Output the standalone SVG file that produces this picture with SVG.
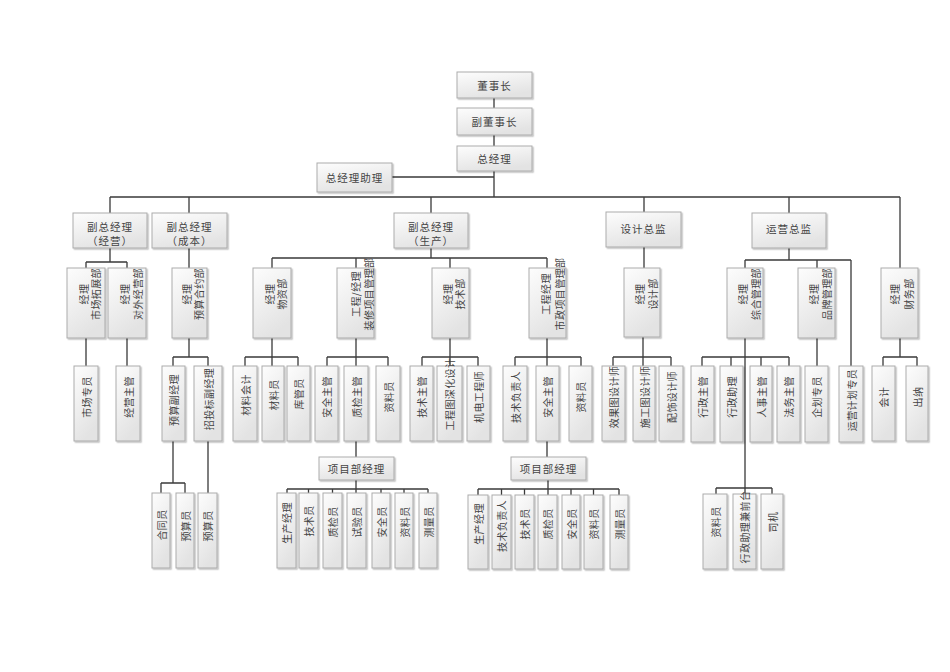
<svg xmlns="http://www.w3.org/2000/svg" width="950" height="672" viewBox="0 0 950 672">
<style>
.b{fill:url(#g);stroke:#ababab;stroke-width:1;filter:url(#sh)}
.h{font-family:"Noto Sans CJK SC","Noto Sans",sans-serif;font-size:10.5px;fill:#444;text-anchor:middle;dominant-baseline:central;letter-spacing:1px}
.v{font-family:"Noto Sans CJK SC","Noto Sans",sans-serif;font-size:10px;fill:#444;text-anchor:middle;dominant-baseline:central;letter-spacing:0.4px}
.c{fill:none;stroke:#3a3a3a;stroke-width:1.3}
</style>
<defs>
<linearGradient id="g" x1="0" y1="0" x2="0.4" y2="1"><stop offset="0" stop-color="#fdfdfd"/><stop offset="1" stop-color="#e3e3e3"/></linearGradient>
<filter id="sh" x="-20%" y="-20%" width="150%" height="150%"><feDropShadow dx="1.3" dy="1.3" stdDeviation="0.7" flood-color="#000" flood-opacity="0.25"/></filter>
</defs>
<rect width="950" height="672" fill="#fff"/>
<g id="connectors" class="c">
<path d="M494 98V108M494 135V146M494 171V197M392 177H494M110 197H900M110 197V213M189 197V213M431 197V213M644 197V212M789 197V213M900 197V268"/>
<path d="M110 248V262M86 262H127M86 262V268M127 262V268M189 248V268"/>
<path d="M431 248V258M272 258H547M272 258V268M356 258V268M450 258V268M547 258V268"/>
<path d="M644 247V268M789 248V260M745 260H851M745 260V268M817 260V268M851 260V366"/>
<path d="M86 338V366M127 338V366M189 338V357M173 357H208M173 357V366M208 357V366"/>
<path d="M272 338V366M245 357H298M245 357V366M298 357V366"/>
<path d="M356 338V366M327 357H388M327 357V366M388 357V366"/>
<path d="M450 338V366M422 357H478M422 357V366M478 357V366"/>
<path d="M547 338V366M515 357H581M515 357V366M581 357V366"/>
<path d="M643 337V366M613 357H671M613 357V366M671 357V366"/>
<path d="M745 338V494M702 357H789M702 357V366M731 357V366M761 357V366M789 357V366"/>
<path d="M817 338V366M900 338V357M883 357H917M883 357V366M917 357V366"/>
<path d="M356 441V457M547 441V457M173 441V483M161 483H185M161 483V493M185 483V493M208 441V493"/>
<path d="M356 480V493M287 489H428M287 489V493M308.5 489V493M332.5 489V493M381 489V493M404 489V493M428 489V493"/>
<path d="M548 480V495M478 489H619M478 489V495M501.5 489V495M524.5 489V495M571 489V495M593.5 489V495M619 489V495"/>
<path d="M716 488H772M716 488V494M772 488V494"/>
</g>
<g id="n-dsz"><rect class="b" x="457" y="72" width="75" height="26"/><text class="h" x="494.5" y="85">董事长</text></g>
<g id="n-fdsz"><rect class="b" x="457" y="108" width="75" height="27"/><text class="h" x="494.5" y="121.5">副董事长</text></g>
<g id="n-zjl"><rect class="b" x="457" y="146" width="75" height="25"/><text class="h" x="494.5" y="158.5">总经理</text></g>
<g id="n-zjlzl"><rect class="b" x="317" y="163" width="75" height="29"/><text class="h" x="354.5" y="177.5">总经理助理</text></g>
<g id="n-vp-jy"><rect class="b" x="73" y="213" width="74" height="35"/><text class="h" x="110" y="226">副总经理</text><text class="h" x="110" y="240">（经营）</text></g>
<g id="n-vp-cb"><rect class="b" x="152" y="213" width="75" height="35"/><text class="h" x="189.5" y="226">副总经理</text><text class="h" x="189.5" y="240">（成本）</text></g>
<g id="n-vp-sc"><rect class="b" x="394" y="213" width="74" height="35"/><text class="h" x="431" y="226">副总经理</text><text class="h" x="431" y="240">（生产）</text></g>
<g id="n-sjzj"><rect class="b" x="606" y="212" width="75" height="35"/><text class="h" x="643.5" y="228">设计总监</text></g>
<g id="n-yyzj"><rect class="b" x="752" y="213" width="74" height="35"/><text class="h" x="789" y="228">运营总监</text></g>
<g id="n-sctz"><rect class="b" x="67" y="268" width="38" height="70"/><text class="v" transform="translate(83,294) rotate(-90)">经理</text><text class="v" transform="translate(95,294) rotate(-90)">市场拓展部</text></g>
<g id="n-dwjy"><rect class="b" x="108" y="268" width="38" height="70"/><text class="v" transform="translate(124,294) rotate(-90)">经理</text><text class="v" transform="translate(137,294) rotate(-90)">对外经营部</text></g>
<g id="n-yshy"><rect class="b" x="172" y="268" width="35" height="70"/><text class="v" transform="translate(186.5,294) rotate(-90)">经理</text><text class="v" transform="translate(198.5,294) rotate(-90)">预算合约部</text></g>
<g id="n-wz"><rect class="b" x="253" y="268" width="38" height="70"/><text class="v" transform="translate(269,294) rotate(-90)">经理</text><text class="v" transform="translate(281,294) rotate(-90)">物资部</text></g>
<g id="n-zx"><rect class="b" x="337" y="268" width="37" height="70"/><text class="v" transform="translate(355,294) rotate(-90)">工程/经理</text><text class="v" transform="translate(368.5,294) rotate(-90)">装修项目管理部</text></g>
<g id="n-js"><rect class="b" x="432" y="268" width="37" height="70"/><text class="v" transform="translate(447,294) rotate(-90)">经理</text><text class="v" transform="translate(459.5,294) rotate(-90)">技术部</text></g>
<g id="n-sz"><rect class="b" x="529" y="268" width="37" height="70"/><text class="v" transform="translate(545,294) rotate(-90)">工程经理</text><text class="v" transform="translate(559,294) rotate(-90)">市政项目管理部</text></g>
<g id="n-sjb"><rect class="b" x="624" y="268" width="36" height="69"/><text class="v" transform="translate(639,294) rotate(-90)">经理</text><text class="v" transform="translate(652,294) rotate(-90)">设计部</text></g>
<g id="n-zh"><rect class="b" x="727" y="268" width="36" height="70"/><text class="v" transform="translate(742,294) rotate(-90)">经理</text><text class="v" transform="translate(755,294) rotate(-90)">综合管理部</text></g>
<g id="n-pp"><rect class="b" x="798" y="268" width="37" height="70"/><text class="v" transform="translate(813.5,294) rotate(-90)">经理</text><text class="v" transform="translate(826.5,294) rotate(-90)">品牌管理部</text></g>
<g id="n-cw"><rect class="b" x="881" y="268" width="37" height="70"/><text class="v" transform="translate(894,294) rotate(-90)">经理</text><text class="v" transform="translate(908,294) rotate(-90)">财务部</text></g>
<g id="n-sczy"><rect class="b" x="74" y="366" width="24" height="75"/><text class="v" transform="translate(86,397) rotate(-90)">市场专员</text></g>
<g id="n-jyzg"><rect class="b" x="116" y="366" width="24" height="75"/><text class="v" transform="translate(128,397) rotate(-90)">经营主管</text></g>
<g id="n-ysfjl"><rect class="b" x="162" y="366" width="23" height="75"/><text class="v" transform="translate(173.5,400) rotate(-90)">预算副经理</text></g>
<g id="n-ztbfjl"><rect class="b" x="194" y="366" width="28" height="75"/><text class="v" transform="translate(208,399) rotate(-90)">招投标副经理</text></g>
<g id="n-clkj"><rect class="b" x="233" y="366" width="24" height="75"/><text class="v" transform="translate(245,395) rotate(-90)">材料会计</text></g>
<g id="n-cly"><rect class="b" x="262" y="366" width="22" height="75"/><text class="v" transform="translate(273,395) rotate(-90)">材料员</text></g>
<g id="n-kgy"><rect class="b" x="287" y="366" width="23" height="75"/><text class="v" transform="translate(298.5,394) rotate(-90)">库管员</text></g>
<g id="n-aqzg1"><rect class="b" x="315" y="366" width="23" height="75"/><text class="v" transform="translate(326.5,397) rotate(-90)">安全主管</text></g>
<g id="n-zjzg"><rect class="b" x="344" y="366" width="24" height="75"/><text class="v" transform="translate(356,397) rotate(-90)">质检主管</text></g>
<g id="n-zly1"><rect class="b" x="376" y="366" width="24" height="75"/><text class="v" transform="translate(388,397) rotate(-90)">资料员</text></g>
<g id="n-jszg"><rect class="b" x="410" y="366" width="23" height="75"/><text class="v" transform="translate(421.5,397) rotate(-90)">技术主管</text></g>
<g id="n-gctsh"><rect class="b" x="437" y="366" width="25" height="75"/><text class="v" transform="translate(449.5,394) rotate(-90)">工程图深化设计</text></g>
<g id="n-jdgcs"><rect class="b" x="467" y="366" width="23" height="75"/><text class="v" transform="translate(478.5,397) rotate(-90)">机电工程师</text></g>
<g id="n-jsfzr1"><rect class="b" x="503" y="366" width="24" height="75"/><text class="v" transform="translate(515,397) rotate(-90)">技术负责人</text></g>
<g id="n-aqzg2"><rect class="b" x="536" y="366" width="23" height="75"/><text class="v" transform="translate(547.5,397) rotate(-90)">安全主管</text></g>
<g id="n-zly2"><rect class="b" x="569" y="366" width="23" height="75"/><text class="v" transform="translate(580.5,397) rotate(-90)">资料员</text></g>
<g id="n-xgt"><rect class="b" x="602" y="366" width="23" height="75"/><text class="v" transform="translate(613.5,397) rotate(-90)">效果图设计师</text></g>
<g id="n-sgt"><rect class="b" x="633" y="366" width="22" height="75"/><text class="v" transform="translate(644,397) rotate(-90)">施工图设计师</text></g>
<g id="n-ps"><rect class="b" x="659" y="366" width="24" height="75"/><text class="v" transform="translate(671,397) rotate(-90)">配饰设计师</text></g>
<g id="n-xzzg"><rect class="b" x="691" y="366" width="23" height="76"/><text class="v" transform="translate(702.5,397) rotate(-90)">行政主管</text></g>
<g id="n-xzzl"><rect class="b" x="720" y="366" width="23" height="76"/><text class="v" transform="translate(731.5,397) rotate(-90)">行政助理</text></g>
<g id="n-rszg"><rect class="b" x="750" y="366" width="22" height="76"/><text class="v" transform="translate(761,397) rotate(-90)">人事主管</text></g>
<g id="n-fwzg"><rect class="b" x="777" y="366" width="23" height="76"/><text class="v" transform="translate(788.5,397) rotate(-90)">法务主管</text></g>
<g id="n-qhzy"><rect class="b" x="805" y="366" width="23" height="76"/><text class="v" transform="translate(816.5,397) rotate(-90)">企划专员</text></g>
<g id="n-yyjh"><rect class="b" x="839" y="366" width="24" height="76"/><text class="v" transform="translate(851,400) rotate(-90)">运营计划专员</text></g>
<g id="n-kj"><rect class="b" x="872" y="366" width="23" height="75"/><text class="v" transform="translate(883.5,397) rotate(-90)">会计</text></g>
<g id="n-cn"><rect class="b" x="906" y="366" width="22" height="75"/><text class="v" transform="translate(917,397) rotate(-90)">出纳</text></g>
<g id="n-pm1"><rect class="b" x="319" y="457" width="75" height="23"/><text class="h" x="356.5" y="468.5">项目部经理</text></g>
<g id="n-pm2"><rect class="b" x="511" y="457" width="75" height="23"/><text class="h" x="548.5" y="468.5">项目部经理</text></g>
<g id="n-hty"><rect class="b" x="152" y="493" width="18" height="75"/><text class="v" transform="translate(161,525) rotate(-90)">合同员</text></g>
<g id="n-ysy1"><rect class="b" x="176" y="493" width="18" height="75"/><text class="v" transform="translate(185,526) rotate(-90)">预算员</text></g>
<g id="n-ysy2"><rect class="b" x="198" y="493" width="19" height="75"/><text class="v" transform="translate(207.5,526) rotate(-90)">预算员</text></g>
<g id="n-a-scjl"><rect class="b" x="277" y="493" width="19" height="75"/><text class="v" transform="translate(286.5,523) rotate(-90)">生产经理</text></g>
<g id="n-a-jsy"><rect class="b" x="299" y="493" width="19" height="75"/><text class="v" transform="translate(308.5,521) rotate(-90)">技术员</text></g>
<g id="n-a-zjy"><rect class="b" x="323" y="493" width="19" height="75"/><text class="v" transform="translate(332.5,522) rotate(-90)">质检员</text></g>
<g id="n-a-syy"><rect class="b" x="347" y="493" width="19" height="75"/><text class="v" transform="translate(356.5,522) rotate(-90)">试验员</text></g>
<g id="n-a-aqy"><rect class="b" x="372" y="493" width="18" height="75"/><text class="v" transform="translate(381,522) rotate(-90)">安全员</text></g>
<g id="n-a-zly"><rect class="b" x="395" y="493" width="18" height="75"/><text class="v" transform="translate(404,522) rotate(-90)">资料员</text></g>
<g id="n-a-cly"><rect class="b" x="419" y="493" width="18" height="75"/><text class="v" transform="translate(428,522) rotate(-90)">测量员</text></g>
<g id="n-b-scjl"><rect class="b" x="468" y="495" width="20" height="74"/><text class="v" transform="translate(478,524) rotate(-90)">生产经理</text></g>
<g id="n-b-jsfzr"><rect class="b" x="492" y="495" width="19" height="74"/><text class="v" transform="translate(501.5,526) rotate(-90)">技术负责人</text></g>
<g id="n-b-jsy"><rect class="b" x="515" y="495" width="19" height="74"/><text class="v" transform="translate(524.5,524) rotate(-90)">技术员</text></g>
<g id="n-b-zjy"><rect class="b" x="538" y="495" width="19" height="74"/><text class="v" transform="translate(547.5,524) rotate(-90)">质检员</text></g>
<g id="n-b-aqy"><rect class="b" x="562" y="495" width="18" height="74"/><text class="v" transform="translate(571,524) rotate(-90)">安全员</text></g>
<g id="n-b-zly"><rect class="b" x="584" y="495" width="19" height="74"/><text class="v" transform="translate(593.5,524) rotate(-90)">资料员</text></g>
<g id="n-b-cly"><rect class="b" x="610" y="495" width="18" height="74"/><text class="v" transform="translate(619,524) rotate(-90)">测量员</text></g>
<g id="n-c-zly"><rect class="b" x="703" y="494" width="24" height="75"/><text class="v" transform="translate(715,522) rotate(-90)">资料员</text></g>
<g id="n-c-qt"><rect class="b" x="733" y="494" width="23" height="75"/><text class="v" transform="translate(744.5,527) rotate(-90)">行政助理兼前台</text></g>
<g id="n-c-sj"><rect class="b" x="761" y="494" width="22" height="75"/><text class="v" transform="translate(772,522) rotate(-90)">司机</text></g>
</svg>
